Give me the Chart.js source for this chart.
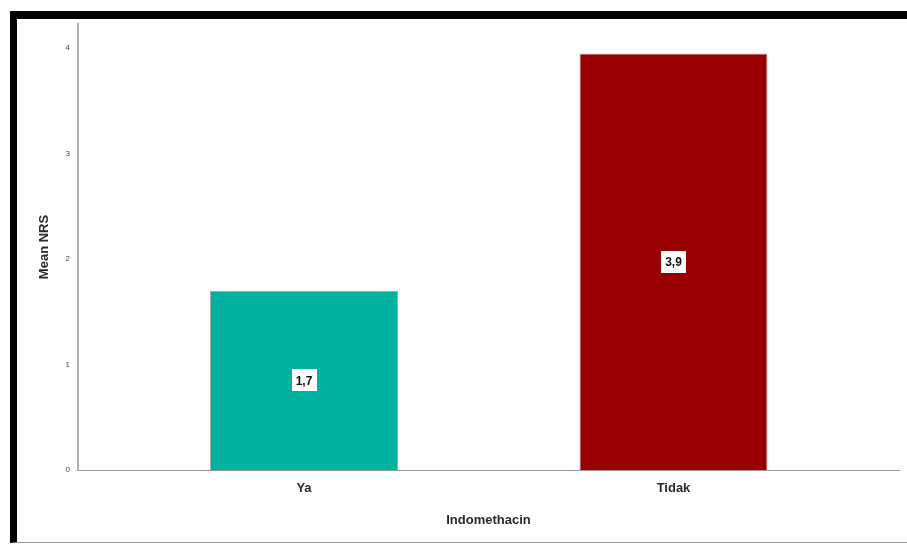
<!DOCTYPE html>
<html>
<head>
<meta charset="utf-8">
<script src="https://cdn.jsdelivr.net/npm/chart.js@4/dist/chart.umd.min.js"></script>
<style>
  html, body { margin: 0; padding: 0; background: #fff; }
  #wrap { position: relative; width: 907px; height: 544px; }
  #frame { position: absolute; left: 10px; top: 11px; width: 897px; height: 532px;
           border-top: 8px solid #000; border-left: 7px solid #000; border-bottom: 1px solid #999;
           box-sizing: border-box; pointer-events: none; }
  canvas { position: absolute; left: 0; top: 0; }
</style>
</head>
<body>
<div id="wrap">
  <canvas id="c" width="907" height="544"></canvas>
  <div id="frame"></div>
</div>
<script>
const categories = ['Ya', 'Tidak'];
const meanNRS = [1.70, 3.95];
const valueLabels = ['1,7', '3,9'];
const yTicks = [0, 1, 2, 3, 4];
const barColors = ['#00b3a0', '#990000'];

const FONT = 'Liberation Sans, Arial, sans-serif';

const labelBoxes = {
  id: 'labelBoxes',
  afterDatasetsDraw(chart) {
    const ctx = chart.ctx;
    const meta = chart.getDatasetMeta(0);
    meta.data.forEach((bar, i) => {
      const cx = bar.x;
      const cy = (bar.y + bar.base) / 2;
      ctx.save();
      ctx.font = 'bold 12px ' + FONT;
      const w = ctx.measureText(valueLabels[i]).width + 8;
      const h = 22;
      ctx.fillStyle = '#ffffff';
      ctx.fillRect(Math.round(cx - w / 2), Math.round(cy - h / 2), Math.round(w), h);
      ctx.fillStyle = '#111';
      ctx.textAlign = 'center';
      ctx.textBaseline = 'middle';
      ctx.fillText(valueLabels[i], cx, cy + 1);
      ctx.restore();
    });
  }
};

new Chart(document.getElementById('c'), {
  type: 'bar',
  data: {
    datasets: [{
      data: categories.map((c, i) => ({ x: i, y: meanNRS[i] })),
      backgroundColor: barColors,
      borderColor: 'rgba(90,90,90,0.5)',
      borderWidth: 1,
      barPercentage: 0.509,
      categoryPercentage: 1
    }]
  },
  options: {
    responsive: false,
    animation: false,
    events: [],
    layout: { padding: { left: 0, right: 8, top: 24, bottom: 0 } },
    plugins: { legend: { display: false }, tooltip: { enabled: false } },
    scales: {
      x: {
        type: 'linear',
        offset: false,
        min: -0.6116,
        max: 1.6103,
        grid: { display: false, drawTicks: false, offset: false },
        border: { display: true, color: '#9a9a9a', width: 1 },
        afterBuildTicks: s => { s.ticks = categories.map((c, i) => ({ value: i })); },
        afterFit: s => { s.height = 74; },
        ticks: {
          callback: v => categories[v],
          padding: 11,
          maxRotation: 0,
          autoSkip: false,
          color: '#2a2a2a',
          font: { family: FONT, size: 13, weight: 'bold' }
        },
        title: {
          display: true,
          text: 'Indomethacin',
          color: '#2a2a2a',
          font: { family: FONT, size: 13, weight: 'bold' },
          padding: { top: 0, bottom: 16 }
        }
      },
      y: {
        min: 0,
        max: 4.23,
        grid: { display: false, drawTicks: false },
        border: { display: true, color: '#b0b0b0', width: 2 },
        afterBuildTicks: s => { s.ticks = yTicks.map(v => ({ value: v })); },
        afterFit: s => { s.width = 78; },
        ticks: {
          padding: 8,
          color: '#444',
          font: { family: FONT, size: 8 }
        },
        title: {
          display: true,
          text: 'Mean NRS',
          color: '#2a2a2a',
          font: { family: FONT, size: 13, weight: 'bold' },
          padding: { top: 37, bottom: 0 }
        }
      }
    }
  },
  plugins: [labelBoxes]
});
</script>
</body>
</html>
